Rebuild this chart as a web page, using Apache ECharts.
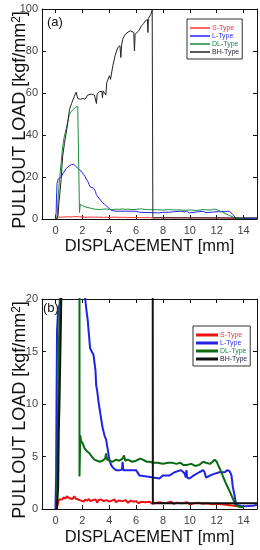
<!DOCTYPE html>
<html><head><meta charset="utf-8">
<script src="https://cdn.jsdelivr.net/npm/echarts@6/dist/echarts.min.js"></script>
<style>html,body{margin:0;padding:0;background:#fff}#c{width:260px;height:550px}</style>
</head><body><div id="c"></div>
<script>
const seriesNames = ['S-Type', 'L-Type', 'DL-Type', 'BH-Type'];
const xTicks = [0, 2, 4, 6, 8, 10, 12, 14];
const yTicksA = [0, 20, 40, 60, 80, 100];
const yTicksB = [0, 5, 10, 15, 20];

const sType = [[0.05,0],[0.15,0.3],[0.25,0.9],[0.35,1.0],[0.5,0.9],[0.6,1.1],[0.75,1.0],[0.85,1.2],[1.0,1.05],[1.1,1.15],[1.25,0.95],[1.4,1.2],[1.5,1.0],[1.6,1.15],[1.7,0.9],[1.8,1.05],[1.9,0.8],[2.0,0.95],[2.1,0.7],[2.2,0.9],[2.35,0.8],[2.5,0.95],[2.6,0.75],[2.8,0.85],[3.0,0.9],[3.1,0.6],[3.2,0.85],[3.4,0.9],[3.6,0.75],[3.8,0.85],[4.0,0.7],[4.2,0.8],[4.4,0.9],[4.5,0.65],[4.7,0.8],[5.0,0.75],[5.2,0.85],[5.4,0.6],[5.6,0.8],[5.8,0.7],[6.0,0.75],[6.2,0.55],[6.4,0.7],[6.7,0.65],[7.0,0.7],[7.2,0.5],[7.5,0.6],[7.8,0.65],[8.0,0.55],[8.3,0.6],[8.6,0.7],[8.8,0.5],[9.0,0.6],[9.4,0.55],[9.8,0.65],[10.0,0.45],[10.3,0.55],[10.6,0.6],[11.0,0.5],[11.3,0.55],[11.7,0.45],[12.0,0.5],[12.4,0.45],[12.7,0.4],[13.0,0.35],[13.3,0.3],[13.6,0.25],[14.0,0.2]];

const lType = [[0,0],[0.05,3],[0.08,10],[0.12,17],[0.2,19],[0.4,19.8],[0.6,22],[0.8,24],[1.0,25.2],[1.2,26],[1.35,26],[1.5,25.2],[1.7,24],[1.9,22.8],[2.1,21.2],[2.2,20.2],[2.3,19],[2.4,18],[2.5,16.5],[2.58,15.3],[2.7,15],[2.83,14.7],[2.9,14],[2.98,13.2],[3.03,11.8],[3.1,11.3],[3.23,10],[3.35,9],[3.5,7.8],[3.65,7.0],[3.77,6.6],[3.9,5.6],[4.0,4.8],[4.14,4.2],[4.3,3.9],[4.52,3.7],[4.8,3.7],[4.95,3.75],[5.0,4.5],[5.05,3.7],[5.5,3.7],[6.0,3.7],[6.25,3.2],[6.8,3.1],[7.3,3.0],[7.74,2.9],[7.99,3.2],[8.5,3.2],[8.86,3.5],[9.35,3.7],[9.6,3.4],[9.7,3.0],[9.75,3.7],[9.8,3.0],[9.97,2.9],[10.3,3.2],[10.7,3.5],[11.0,3.7],[11.1,3.5],[11.2,3.0],[11.7,3.3],[12.2,3.5],[12.6,3.5],[12.8,3.7],[12.96,3.6],[13.1,3.2],[13.2,2.1],[13.33,1.3],[13.45,0.4],[13.95,0.25],[14.7,0.3],[15,0.4]];

const dlType = [[0.1,0],[0.15,3],[0.17,6.7],[0.22,12],[0.3,18.7],[0.42,26.6],[0.54,34.6],[0.65,39],[0.8,43],[0.9,46],[1.04,49.8],[1.15,51],[1.29,52],[1.45,53],[1.66,53.7],[1.79,54],[1.79,3.1],[1.85,7],[1.9,6.5],[2.03,6.25],[2.16,5.8],[2.35,5.5],[2.53,5.3],[2.7,5.0],[2.9,4.7],[3.1,4.6],[3.28,4.5],[3.5,4.6],[3.7,4.8],[3.77,5.3],[3.85,4.7],[4.0,4.6],[4.27,4.5],[4.5,4.7],[4.75,4.6],[5.0,4.8],[5.1,5.1],[5.2,4.6],[5.4,4.7],[5.7,4.5],[6.0,4.6],[6.3,4.8],[6.5,4.7],[6.8,4.5],[7.0,4.5],[7.25,4.4],[7.6,4.4],[8.0,4.3],[8.4,4.4],[8.7,4.4],[9.0,4.3],[9.3,4.4],[9.5,4.2],[9.8,4.2],[10.1,4.3],[10.4,4.1],[10.7,4.2],[11.0,4.5],[11.2,4.4],[11.5,4.3],[11.7,4.5],[11.85,4.7],[12.0,4.5],[12.1,4.2],[12.35,3.5],[12.5,3.0],[12.7,2.4],[12.96,1.7],[13.2,1.0],[13.4,0.4],[13.7,0.2],[14.0,0.2]];

const bhType = [[0.1,0],[0.2,2],[0.25,7.5],[0.3,10],[0.42,18.7],[0.54,30],[0.67,36],[0.8,41],[0.9,45],[1.04,52],[1.2,55],[1.41,58.5],[1.54,60.4],[1.66,57.4],[1.85,57],[2.03,57.4],[2.2,57],[2.4,59],[2.7,59.5],[2.9,59],[3.03,59.3],[3.05,55],[3.1,59.5],[3.27,60.6],[3.45,60.8],[3.5,57.7],[3.55,61],[3.65,61],[3.75,59],[3.82,65],[4.02,68.2],[4.1,66.5],[4.27,73],[4.45,78],[4.64,81.7],[4.8,82.5],[4.87,76.9],[4.92,82.5],[5.0,85.6],[5.2,88],[5.4,89],[5.58,89.6],[5.83,88.8],[5.88,80],[5.93,88],[6.2,89.6],[6.4,92],[6.55,93],[6.7,94.4],[6.85,95],[6.88,88.8],[6.92,95.5],[7.0,96],[7.1,97.5],[7.2,99.5],[7.25,99.5],[7.25,0.55],[8,0.55],[10,0.55],[12,0.55],[15,0.55]];

const allData = [sType, lType, dlType, bhType];
const colorsA = ['#ff3030', '#2222f0', '#1d8c3c', '#222222'];
const colorsB = ['#ee1111', '#2222e6', '#0b6a12', '#111111'];
const textColors = ['#ff3030', '#3333e0', '#1d8c4a', '#2a2a40'];

const FONT = 'Liberation Sans, Arial, sans-serif';
const chart = echarts.init(document.getElementById('c'), null, {renderer: 'canvas'});

function xAx(grid, pos, name, gap) {
  const main = pos === 'bottom';
  return {
    type: 'value', gridIndex: grid, position: pos, min: -1, max: 15,
    name: main ? name : '', nameLocation: 'middle', nameGap: gap, nameMoveOverlap: false,
    nameTextStyle: {fontFamily: FONT, fontSize: 16.5, color: '#111'},
    axisLine: {show: true, onZero: false, lineStyle: {color: '#111', width: 1}},
    axisTick: {show: true, inside: true, length: 4, customValues: xTicks, lineStyle: {color: '#111'}},
    axisLabel: {show: main, customValues: xTicks, margin: 6, fontFamily: FONT, fontSize: 11, color: '#444'},
    splitLine: {show: false}
  };
}
function yAx(grid, pos, max, interval, gap) {
  const main = pos === 'left';
  return {
    type: 'value', gridIndex: grid, position: pos, min: 0, max: max, interval: interval,
    name: main ? 'PULLOUT LOAD [kgf/mm{s|2}]' : '', nameLocation: 'middle', nameRotate: 90, nameGap: gap,
    nameMoveOverlap: false,
    nameTextStyle: {fontFamily: FONT, fontSize: 18, color: '#111', padding: [0, 12, 0, 0],
      rich: {s: {fontFamily: FONT, fontSize: 12, color: '#111', verticalAlign: 'top'}}},
    axisLine: {show: true, onZero: false, lineStyle: {color: '#111', width: 1}},
    axisTick: {show: true, inside: true, length: 4, lineStyle: {color: '#111'}},
    axisLabel: {show: main, margin: 4, fontFamily: FONT, fontSize: 11, color: '#444'},
    splitLine: {show: false}
  };
}

const series = [];
seriesNames.forEach((n, i) => {
  series.push({name: n, type: 'line', xAxisIndex: 0, yAxisIndex: 0, data: allData[i], symbol: 'none',
    lineStyle: {color: colorsA[i], width: 1}, itemStyle: {color: colorsA[i]}, animation: false, clip: true, z: i === 3 ? 3 : 2});
});
seriesNames.forEach((n, i) => {
  series.push({name: n, type: 'line', xAxisIndex: 2, yAxisIndex: 2, data: allData[i], symbol: 'none',
    lineStyle: {color: colorsB[i], width: 2}, itemStyle: {color: colorsB[i]}, animation: false, clip: true, z: i === 3 ? 3 : 2});
});

function legend(left, top, iw, lineW, cols) {
  return {
    orient: 'vertical', left: left, top: top, itemWidth: iw, itemHeight: lineW, itemGap: 0,
    icon: 'rect',
    padding: [5, 3, 3, 3], borderColor: '#333', borderWidth: 1, backgroundColor: '#fff',
    selectedMode: false,
    textStyle: {fontFamily: FONT, fontSize: 7, lineHeight: 8, padding: [0, 0, 0, -3]},
    data: seriesNames.map((n, i) => ({name: n, textStyle: {color: textColors[i]},
      itemStyle: {color: cols[i], borderWidth: 0}}))
  };
}

chart.setOption({
  animation: false,
  grid: [
    {left: 42, top: 9, width: 215, height: 210, containLabel: false, outerBoundsMode: 'none'},
    {left: 42, top: 299, width: 215, height: 210, containLabel: false, outerBoundsMode: 'none'}
  ],
  xAxis: [xAx(0, 'bottom', 'DISPLACEMENT [mm]', 19), xAx(0, 'top'), xAx(1, 'bottom', 'DISPLACEMENT [mm]', 19.5), xAx(1, 'top')],
  yAxis: [yAx(0, 'left', 100, 20, 13), yAx(0, 'right', 100, 20), yAx(1, 'left', 20, 5, 13), yAx(1, 'right', 20, 5)],
  legend: [legend(187, 19, 20, 1.5, colorsA), legend(193, 326, 22, 3, colorsB)],
  graphic: [
    {type: 'text', left: 47, top: 16, style: {text: '(a)', fontFamily: FONT, fontSize: 13, fill: '#111'}},
    {type: 'text', left: 43, top: 302, style: {text: '(b)', fontFamily: FONT, fontSize: 13, fill: '#111'}}
  ],
  series: series
});
</script></body></html>
